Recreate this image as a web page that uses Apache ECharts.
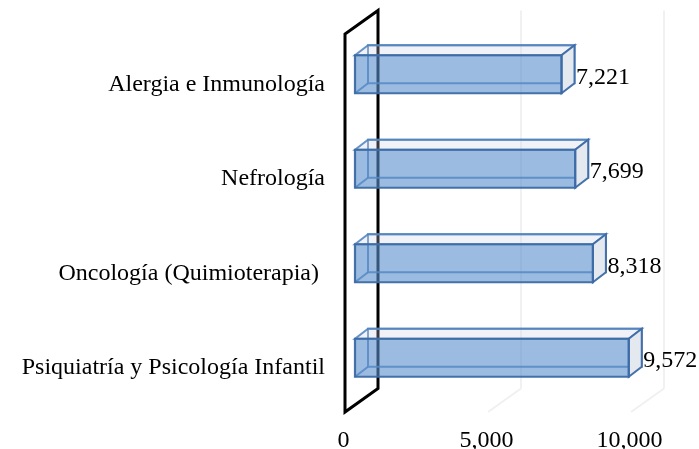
<!DOCTYPE html>
<html><head><meta charset="utf-8">
<style>html,body{margin:0;padding:0;background:#fff}#c{width:699px;height:449px}</style>
<script src="https://cdn.jsdelivr.net/npm/echarts@6/dist/echarts.min.js"></script>
</head><body><div id="c"></div>
<script>
const categories = ['Alergia e Inmunología', 'Nefrología', 'Oncología (Quimioterapia) ', 'Psiquiatría y Psicología Infantil'];
const values = [7221, 7699, 8318, 9572];
const gridTicks = [5000, 10000];
const FONT = '"Liberation Serif","Times New Roman",serif';
const WALL = [33, -23.5], BAR_FRONT = [10, -7], BAR_DEPTH = [13, -10], BAR_HALF = 19;
const chart = echarts.init(document.getElementById('c'), null, {renderer: 'canvas'});
const add = (p, d) => [p[0] + d[0], p[1] + d[1]];
const poly = (points, style) => ({type: 'polygon', shape: {points}, style});
const line = (a, b, style) => ({type: 'line', shape: {x1: a[0], y1: a[1], x2: b[0], y2: b[1]}, style});

function plotBounds(params) {
  const c = params.coordSys;
  return {top: c.y, bottom: c.y + c.height};
}
function renderGrid(params, api) {
  const b = plotBounds(params);
  const x = api.coord([api.value(0), 0])[0];
  const foot = [x, b.bottom], corner = add(foot, WALL), top = [corner[0], b.top + WALL[1]];
  const s = {stroke: '#f0f0f0', lineWidth: 1.8, fill: null};
  return {type: 'group', children: [line(foot, corner, s), line(corner, top, s)]};
}
function renderWall(params, api) {
  const b = plotBounds(params);
  const x = api.coord([0, 0])[0];
  const fb = [x, b.bottom], ft = [x, b.top];
  return poly([fb, ft, add(ft, WALL), add(fb, WALL)], {fill: 'none', stroke: '#000', lineWidth: 3, lineJoin: 'miter'});
}
function renderBar(params, api) {
  const idx = api.value(1), v = api.value(0);
  const c0 = add(api.coord([0, idx]), BAR_FRONT), c1 = add(api.coord([v, idx]), BAR_FRONT);
  const fl = [c0[0], c0[1] - BAR_HALF], fr = [c1[0], c1[1] - BAR_HALF];
  const bl = [c0[0], c0[1] + BAR_HALF], br = [c1[0], c1[1] + BAR_HALF];
  const d = BAR_DEPTH;
  const backEdge = 'rgba(79,129,189,0.85)';
  const frontEdge = 'rgba(60,106,165,0.95)';
  return {type: 'group', children: [
    poly([add(bl, d), add(fl, d), add(fr, d), add(br, d)], {fill: 'none', stroke: backEdge, lineWidth: 2}),
    poly([fl, fr, add(fr, d), add(fl, d)], {fill: 'rgba(200,208,228,0.28)', stroke: backEdge, lineWidth: 2}),
    line(bl, add(bl, d), {stroke: backEdge, lineWidth: 2}),
    poly([fr, br, add(br, d), add(fr, d)], {fill: '#e4e8ef', stroke: frontEdge, lineWidth: 2}),
    poly([fl, fr, br, bl], {fill: 'rgba(88,142,203,0.6)', stroke: frontEdge, lineWidth: 2.2}),
    {type: 'text', style: {
      x: c1[0] + 14.5, y: c1[1] + 3,
      text: v.toLocaleString('en-US'),
      font: '24px ' + FONT, fill: '#000', textAlign: 'left', textVerticalAlign: 'middle'
    }}
  ]};
}
chart.setOption({
  animation: false,
  backgroundColor: '#fff',
  grid: {left: 345, top: 34, width: 286, height: 378, outerBoundsMode: 'none'},
  xAxis: {
    type: 'value', min: 0, max: 10000, interval: 5000,
    axisLine: {show: false}, axisTick: {show: false}, splitLine: {show: false},
    axisLabel: {color: '#000', fontFamily: FONT, fontSize: 24, margin: 17, padding: [0, 3, 0, 0],
      formatter: v => v.toLocaleString('en-US')}
  },
  yAxis: {
    type: 'category', inverse: true, data: categories,
    axisLine: {show: false}, axisTick: {show: false}, splitLine: {show: false},
    axisLabel: {color: '#000', fontFamily: FONT, fontSize: 24, margin: 20, verticalAlign: 'top', lineHeight: 6}
  },
  series: [
    {type: 'custom', renderItem: renderGrid, data: gridTicks.map(t => [t, 0]), encode: {x: 0, y: 1}, silent: true, z: 1},
    {type: 'custom', renderItem: renderWall, data: [[0, 0]], encode: {x: 0, y: 1}, silent: true, z: 2},
    {type: 'custom', renderItem: renderBar, data: values.map((v, i) => [v, i]), encode: {x: 0, y: 1}, silent: true, z: 3}
  ]
});
</script></body></html>
